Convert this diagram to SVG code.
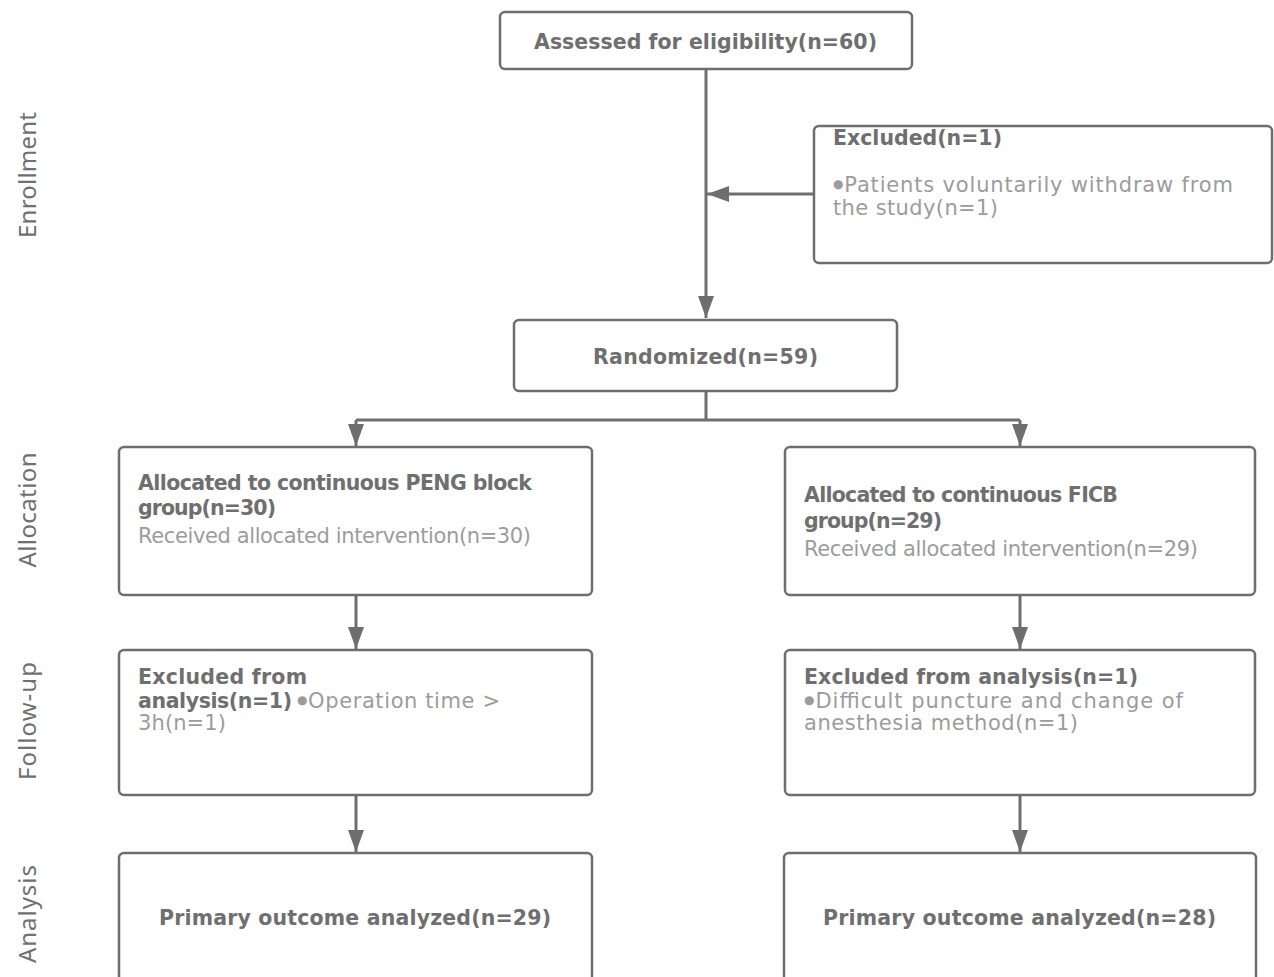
<svg xmlns="http://www.w3.org/2000/svg" width="1274" height="977" viewBox="0 0 1274 977">
<style>
.box{fill:#fff;stroke:#6e6e6e;stroke-width:2.5}
.b{font-family:"DejaVu Sans","Noto Sans",sans-serif;font-weight:bold;font-size:20.5px;fill:#6f6f6f}
.r{font-family:"DejaVu Sans","Noto Sans",sans-serif;font-size:21px;fill:#9c9c9c}
.dot{font-size:12px}
.side{font-family:"Noto Sans","DejaVu Sans",sans-serif;font-size:24px;fill:#707070}
.c{fill:none;stroke:#6e6e6e;stroke-width:3}
</style>
<defs>
<marker id="ah" viewBox="0 0 22 16" refX="22" refY="8" markerWidth="22" markerHeight="16" markerUnits="userSpaceOnUse" orient="auto">
<path d="M0,0 L22,8 L0,16 Z" fill="#6e6e6e"/>
</marker>
</defs>
<rect width="1274" height="977" fill="#fff"/>
<g id="labels">
<text class="side" transform="translate(36,175) rotate(-90)" text-anchor="middle" textLength="126" lengthAdjust="spacing">Enrollment</text>
<text class="side" transform="translate(36,510) rotate(-90)" text-anchor="middle" textLength="115" lengthAdjust="spacing">Allocation</text>
<text class="side" transform="translate(36,721) rotate(-90)" text-anchor="middle" textLength="118" lengthAdjust="spacing">Follow-up</text>
<text class="side" transform="translate(36,914) rotate(-90)" text-anchor="middle" textLength="98" lengthAdjust="spacing">Analysis</text>
</g>
<g id="connectors">
<path class="c" d="M706,69 V318" marker-end="url(#ah)"/>
<path class="c" d="M814,194 H707" marker-end="url(#ah)"/>
<path class="c" d="M706,391 V420 M356,420 H1020"/>
<path class="c" d="M356,420 V446" marker-end="url(#ah)"/>
<path class="c" d="M1020,420 V446" marker-end="url(#ah)"/>
<path class="c" d="M356,595 V649" marker-end="url(#ah)"/>
<path class="c" d="M1020,595 V649" marker-end="url(#ah)"/>
<path class="c" d="M356,795 V852" marker-end="url(#ah)"/>
<path class="c" d="M1020,795 V852" marker-end="url(#ah)"/>
</g>
<g id="assessed">
<rect class="box" x="500" y="12" width="412" height="57" rx="5"/>
<text class="b" x="534" y="49" textLength="343" lengthAdjust="spacing">Assessed for eligibility(n=60)</text>
</g>
<g id="excluded">
<rect class="box" x="814" y="126" width="458" height="137" rx="5"/>
<text class="b" x="833" y="145" textLength="169" lengthAdjust="spacing">Excluded(n=1)</text>
<text class="r" x="833" y="192" textLength="400" lengthAdjust="spacing"><tspan class="dot" dy="-4">●</tspan><tspan dy="4">Patients voluntarily withdraw from</tspan></text>
<text class="r" x="833" y="215" textLength="165" lengthAdjust="spacing">the study(n=1)</text>
</g>
<g id="randomized">
<rect class="box" x="514" y="320" width="383" height="71" rx="5"/>
<text class="b" x="593" y="364" textLength="225" lengthAdjust="spacing">Randomized(n=59)</text>
</g>
<g id="alloc-peng">
<rect class="box" x="119" y="447" width="473" height="148" rx="5"/>
<text class="b" x="138" y="490" textLength="394" lengthAdjust="spacing">Allocated to continuous PENG block</text>
<text class="b" x="138" y="515" textLength="138" lengthAdjust="spacing">group(n=30)</text>
<text class="r" x="138" y="543" textLength="393" lengthAdjust="spacing">Received allocated intervention(n=30)</text>
</g>
<g id="alloc-ficb">
<rect class="box" x="785" y="447" width="470" height="148" rx="5"/>
<text class="b" x="804" y="502" textLength="314" lengthAdjust="spacing">Allocated to continuous FICB</text>
<text class="b" x="804" y="528" textLength="138" lengthAdjust="spacing">group(n=29)</text>
<text class="r" x="804" y="556" textLength="394" lengthAdjust="spacing">Received allocated intervention(n=29)</text>
</g>
<g id="follow-peng">
<rect class="box" x="119" y="650" width="473" height="145" rx="5"/>
<text class="b" x="138" y="684" textLength="169" lengthAdjust="spacing">Excluded from</text>
<text class="b" x="138" y="708" textLength="154" lengthAdjust="spacing">analysis(n=1)</text>
<text class="r" x="297" y="708" textLength="203" lengthAdjust="spacing"><tspan class="dot" dy="-4">●</tspan><tspan dy="4">Operation time &gt;</tspan></text>
<text class="r" x="138" y="730" textLength="88" lengthAdjust="spacing">3h(n=1)</text>
</g>
<g id="follow-ficb">
<rect class="box" x="785" y="650" width="470" height="145" rx="5"/>
<text class="b" x="804" y="684" textLength="334" lengthAdjust="spacing">Excluded from analysis(n=1)</text>
<text class="r" x="804" y="708" textLength="379" lengthAdjust="spacing"><tspan class="dot" dy="-4">●</tspan><tspan dy="4">Difficult puncture and change of</tspan></text>
<text class="r" x="804" y="730" textLength="274" lengthAdjust="spacing">anesthesia method(n=1)</text>
</g>
<g id="analysis-peng">
<rect class="box" x="119" y="853" width="473" height="135" rx="5"/>
<text class="b" x="159" y="925" textLength="392" lengthAdjust="spacing">Primary outcome analyzed(n=29)</text>
</g>
<g id="analysis-ficb">
<rect class="box" x="784" y="853" width="472" height="135" rx="5"/>
<text class="b" x="823" y="925" textLength="393" lengthAdjust="spacing">Primary outcome analyzed(n=28)</text>
</g>
</svg>
